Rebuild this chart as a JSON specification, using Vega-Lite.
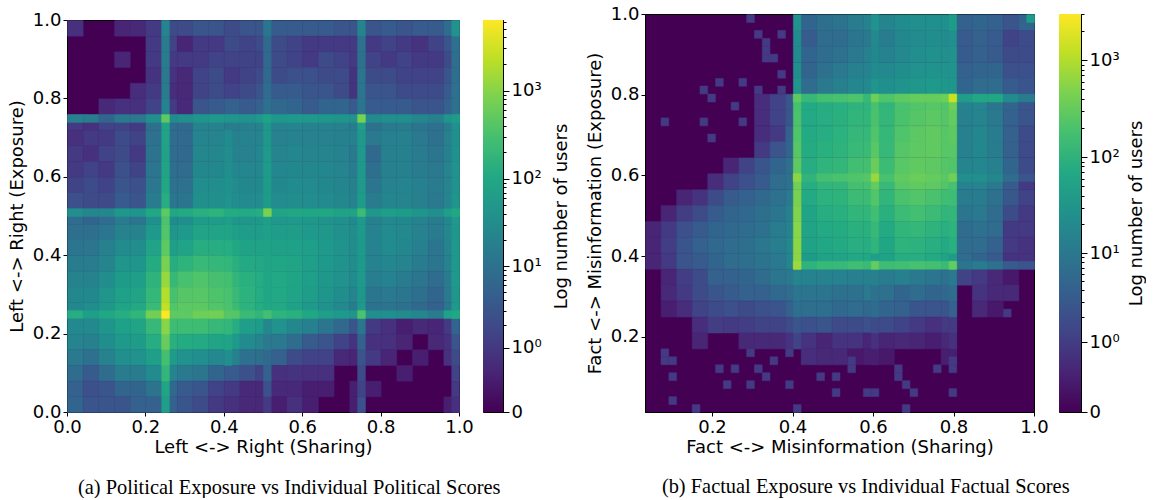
{"$schema":"https://vega.github.io/schema/vega-lite/v6.json","padding":{"left":7,"top":4,"right":0,"bottom":0},"background":"white",
"config":{"rect":{"strokeWidth":0.5},"view":{"stroke":"black","strokeWidth":1,"fill":"#440154"},"axis":{"labelFont":"DejaVu Sans","titleFont":"DejaVu Sans","labelFontSize":18,"titleFontSize":18,"titleFontWeight":"normal","tickColor":"black","domainColor":"black","labelColor":"black","titleColor":"black","grid":false,"tickSize":4,"zindex":1,"labelFlush":false},"title":{"font":"Liberation Serif","fontSize":20.4,"fontWeight":"normal","color":"black","anchor":"middle"}},
"spacing":14,
"hconcat":[
{"spacing":-10,"vconcat":[{"width":392,"height":6,"view":{"fill":null,"stroke":null},"data":{"values":[{}]},"mark":{"type":"rect","opacity":0},"encoding":{}},{"title":{"text":"(a)  Political Exposure vs Individual Political Scores","orient":"bottom","offset":21},"spacing":8,"hconcat":[
{"width":392,"height":392,"encoding":{"color":{"field":"v","type":"quantitative","legend":null,"scale":{"type":"symlog","constant":0.23,"domain":[0,6300],"scheme":"viridis"}},"stroke":{"field":"v","type":"quantitative","legend":null,"scale":{"type":"symlog","constant":0.23,"domain":[0,6300],"scheme":"viridis"}}},"layer":[
{"data":{"values":[
{"x":0,"y":0.96,"v":0.7},{"x":0.12,"y":0.96,"v":0.4},{"x":0.16,"y":0.96,"v":0.5},{"x":0.2,"y":0.96,"v":1},{"x":0.24,"y":0.96,"v":2},{"x":0.28,"y":0.96,"v":2},{"x":0.32,"y":0.96,"v":3},{"x":0.36,"y":0.96,"v":3},{"x":0.4,"y":0.96,"v":2},{"x":0.44,"y":0.96,"v":3},{"x":0.48,"y":0.96,"v":3},{"x":0.52,"y":0.96,"v":4},{"x":0.56,"y":0.96,"v":4},{"x":0.6,"y":0.96,"v":4},{"x":0.64,"y":0.96,"v":4},{"x":0.68,"y":0.96,"v":3},{"x":0.72,"y":0.96,"v":3},{"x":0.76,"y":0.96,"v":3},{"x":0.8,"y":0.96,"v":4},{"x":0.84,"y":0.96,"v":3},{"x":0.88,"y":0.96,"v":4},{"x":0.92,"y":0.96,"v":4},{"x":0.96,"y":0.96,"v":8},
{"x":0.2,"y":0.92,"v":1},{"x":0.24,"y":0.92,"v":1.5},{"x":0.28,"y":0.92,"v":0.4},{"x":0.32,"y":0.92,"v":1},{"x":0.36,"y":0.92,"v":1},{"x":0.4,"y":0.92,"v":2},{"x":0.44,"y":0.92,"v":1.5},{"x":0.48,"y":0.92,"v":2},{"x":0.52,"y":0.92,"v":2},{"x":0.56,"y":0.92,"v":1.5},{"x":0.6,"y":0.92,"v":1},{"x":0.64,"y":0.92,"v":1},{"x":0.68,"y":0.92,"v":1},{"x":0.72,"y":0.92,"v":1},{"x":0.76,"y":0.92,"v":1},{"x":0.8,"y":0.92,"v":1.5},{"x":0.84,"y":0.92,"v":1},{"x":0.88,"y":0.92,"v":0.8},{"x":0.92,"y":0.92,"v":1.5},{"x":0.96,"y":0.92,"v":3},
{"x":0.12,"y":0.88,"v":0.4},{"x":0.2,"y":0.88,"v":1},{"x":0.24,"y":0.88,"v":1},{"x":0.28,"y":0.88,"v":1},{"x":0.32,"y":0.88,"v":1},{"x":0.36,"y":0.88,"v":1.5},{"x":0.4,"y":0.88,"v":1.5},{"x":0.44,"y":0.88,"v":1.5},{"x":0.48,"y":0.88,"v":1.5},{"x":0.52,"y":0.88,"v":2},{"x":0.56,"y":0.88,"v":1.5},{"x":0.6,"y":0.88,"v":1},{"x":0.64,"y":0.88,"v":2},{"x":0.68,"y":0.88,"v":1.5},{"x":0.72,"y":0.88,"v":1},{"x":0.76,"y":0.88,"v":1.5},{"x":0.8,"y":0.88,"v":1},{"x":0.84,"y":0.88,"v":1.5},{"x":0.88,"y":0.88,"v":1},{"x":0.92,"y":0.88,"v":1},{"x":0.96,"y":0.88,"v":2},
{"x":0.2,"y":0.84,"v":0.8},{"x":0.24,"y":0.84,"v":0.8},{"x":0.28,"y":0.84,"v":0.5},{"x":0.32,"y":0.84,"v":1.5},{"x":0.36,"y":0.84,"v":2},{"x":0.4,"y":0.84,"v":1},{"x":0.44,"y":0.84,"v":1.5},{"x":0.48,"y":0.84,"v":2},{"x":0.52,"y":0.84,"v":2},{"x":0.56,"y":0.84,"v":2.5},{"x":0.6,"y":0.84,"v":2.5},{"x":0.64,"y":0.84,"v":2},{"x":0.68,"y":0.84,"v":2},{"x":0.72,"y":0.84,"v":0.8},{"x":0.76,"y":0.84,"v":2},{"x":0.8,"y":0.84,"v":2},{"x":0.84,"y":0.84,"v":1.5},{"x":0.88,"y":0.84,"v":1.5},{"x":0.92,"y":0.84,"v":1.5},{"x":0.96,"y":0.84,"v":3},
{"x":0.16,"y":0.8,"v":0.6},{"x":0.2,"y":0.8,"v":1},{"x":0.24,"y":0.8,"v":0.6},{"x":0.28,"y":0.8,"v":0.5},{"x":0.32,"y":0.8,"v":1.5},{"x":0.36,"y":0.8,"v":2},{"x":0.4,"y":0.8,"v":1.5},{"x":0.44,"y":0.8,"v":2},{"x":0.48,"y":0.8,"v":3},{"x":0.52,"y":0.8,"v":4},{"x":0.56,"y":0.8,"v":4},{"x":0.6,"y":0.8,"v":3},{"x":0.64,"y":0.8,"v":3},{"x":0.68,"y":0.8,"v":2},{"x":0.72,"y":0.8,"v":0.8},{"x":0.76,"y":0.8,"v":3},{"x":0.8,"y":0.8,"v":3},{"x":0.84,"y":0.8,"v":2},{"x":0.88,"y":0.8,"v":2},{"x":0.92,"y":0.8,"v":2},{"x":0.96,"y":0.8,"v":4},
{"x":0.08,"y":0.76,"v":0.5},{"x":0.12,"y":0.76,"v":0.7},{"x":0.16,"y":0.76,"v":0.7},{"x":0.2,"y":0.76,"v":1.5},{"x":0.24,"y":0.76,"v":1},{"x":0.28,"y":0.76,"v":0.5},{"x":0.32,"y":0.76,"v":3},{"x":0.36,"y":0.76,"v":4},{"x":0.4,"y":0.76,"v":5},{"x":0.44,"y":0.76,"v":4},{"x":0.48,"y":0.76,"v":5},{"x":0.52,"y":0.76,"v":7},{"x":0.56,"y":0.76,"v":6},{"x":0.6,"y":0.76,"v":4},{"x":0.64,"y":0.76,"v":6},{"x":0.68,"y":0.76,"v":6},{"x":0.72,"y":0.76,"v":4},{"x":0.76,"y":0.76,"v":4},{"x":0.8,"y":0.76,"v":4},{"x":0.84,"y":0.76,"v":4},{"x":0.88,"y":0.76,"v":3},{"x":0.92,"y":0.76,"v":3},{"x":0.96,"y":0.76,"v":5},
{"x":0,"y":0.72,"v":1},{"x":0.04,"y":0.72,"v":0.7},{"x":0.08,"y":0.72,"v":1.5},{"x":0.12,"y":0.72,"v":1.5},{"x":0.16,"y":0.72,"v":1},{"x":0.2,"y":0.72,"v":9},{"x":0.24,"y":0.72,"v":8},{"x":0.28,"y":0.72,"v":7},{"x":0.32,"y":0.72,"v":20},{"x":0.36,"y":0.72,"v":20},{"x":0.4,"y":0.72,"v":16},{"x":0.44,"y":0.72,"v":18},{"x":0.48,"y":0.72,"v":20},{"x":0.52,"y":0.72,"v":20},{"x":0.56,"y":0.72,"v":22},{"x":0.6,"y":0.72,"v":20},{"x":0.64,"y":0.72,"v":20},{"x":0.68,"y":0.72,"v":18},{"x":0.72,"y":0.72,"v":16},{"x":0.76,"y":0.72,"v":10},{"x":0.8,"y":0.72,"v":14},{"x":0.84,"y":0.72,"v":16},{"x":0.88,"y":0.72,"v":12},{"x":0.92,"y":0.72,"v":10},{"x":0.96,"y":0.72,"v":16},
{"x":0,"y":0.68,"v":0.7},{"x":0.04,"y":0.68,"v":1},{"x":0.08,"y":0.68,"v":1},{"x":0.12,"y":0.68,"v":2},{"x":0.16,"y":0.68,"v":1.5},{"x":0.2,"y":0.68,"v":10},{"x":0.24,"y":0.68,"v":8},{"x":0.28,"y":0.68,"v":7},{"x":0.32,"y":0.68,"v":22},{"x":0.36,"y":0.68,"v":22},{"x":0.4,"y":0.68,"v":18},{"x":0.44,"y":0.68,"v":20},{"x":0.48,"y":0.68,"v":22},{"x":0.52,"y":0.68,"v":20},{"x":0.56,"y":0.68,"v":20},{"x":0.6,"y":0.68,"v":20},{"x":0.64,"y":0.68,"v":20},{"x":0.68,"y":0.68,"v":18},{"x":0.72,"y":0.68,"v":18},{"x":0.76,"y":0.68,"v":14},{"x":0.8,"y":0.68,"v":18},{"x":0.84,"y":0.68,"v":18},{"x":0.88,"y":0.68,"v":14},{"x":0.92,"y":0.68,"v":10},{"x":0.96,"y":0.68,"v":18},
{"x":0,"y":0.64,"v":1},{"x":0.04,"y":0.64,"v":0.7},{"x":0.08,"y":0.64,"v":1.5},{"x":0.12,"y":0.64,"v":2},{"x":0.16,"y":0.64,"v":1},{"x":0.2,"y":0.64,"v":11},{"x":0.24,"y":0.64,"v":8},{"x":0.28,"y":0.64,"v":7},{"x":0.32,"y":0.64,"v":25},{"x":0.36,"y":0.64,"v":25},{"x":0.4,"y":0.64,"v":20},{"x":0.44,"y":0.64,"v":20},{"x":0.48,"y":0.64,"v":24},{"x":0.52,"y":0.64,"v":22},{"x":0.56,"y":0.64,"v":24},{"x":0.6,"y":0.64,"v":22},{"x":0.64,"y":0.64,"v":22},{"x":0.68,"y":0.64,"v":20},{"x":0.72,"y":0.64,"v":14},{"x":0.76,"y":0.64,"v":7},{"x":0.8,"y":0.64,"v":18},{"x":0.84,"y":0.64,"v":18},{"x":0.88,"y":0.64,"v":16},{"x":0.92,"y":0.64,"v":12},{"x":0.96,"y":0.64,"v":18},
{"x":0,"y":0.6,"v":1},{"x":0.04,"y":0.6,"v":1.5},{"x":0.08,"y":0.6,"v":1},{"x":0.12,"y":0.6,"v":2.5},{"x":0.16,"y":0.6,"v":1.5},{"x":0.2,"y":0.6,"v":12},{"x":0.24,"y":0.6,"v":9},{"x":0.28,"y":0.6,"v":8},{"x":0.32,"y":0.6,"v":27},{"x":0.36,"y":0.6,"v":27},{"x":0.4,"y":0.6,"v":24},{"x":0.44,"y":0.6,"v":24},{"x":0.48,"y":0.6,"v":25},{"x":0.52,"y":0.6,"v":24},{"x":0.56,"y":0.6,"v":27},{"x":0.6,"y":0.6,"v":25},{"x":0.64,"y":0.6,"v":24},{"x":0.68,"y":0.6,"v":22},{"x":0.72,"y":0.6,"v":16},{"x":0.76,"y":0.6,"v":9},{"x":0.8,"y":0.6,"v":18},{"x":0.84,"y":0.6,"v":18},{"x":0.88,"y":0.6,"v":16},{"x":0.92,"y":0.6,"v":14},{"x":0.96,"y":0.6,"v":22},
{"x":0,"y":0.56,"v":1.5},{"x":0.04,"y":0.56,"v":2},{"x":0.08,"y":0.56,"v":1.5},{"x":0.12,"y":0.56,"v":3},{"x":0.16,"y":0.56,"v":2.5},{"x":0.2,"y":0.56,"v":13},{"x":0.24,"y":0.56,"v":10},{"x":0.28,"y":0.56,"v":10},{"x":0.32,"y":0.56,"v":32},{"x":0.36,"y":0.56,"v":32},{"x":0.4,"y":0.56,"v":29},{"x":0.44,"y":0.56,"v":27},{"x":0.48,"y":0.56,"v":27},{"x":0.52,"y":0.56,"v":27},{"x":0.56,"y":0.56,"v":30},{"x":0.6,"y":0.56,"v":29},{"x":0.64,"y":0.56,"v":27},{"x":0.68,"y":0.56,"v":23},{"x":0.72,"y":0.56,"v":18},{"x":0.76,"y":0.56,"v":12},{"x":0.8,"y":0.56,"v":20},{"x":0.84,"y":0.56,"v":22},{"x":0.88,"y":0.56,"v":18},{"x":0.92,"y":0.56,"v":16},{"x":0.96,"y":0.56,"v":22},
{"x":0,"y":0.52,"v":2.5},{"x":0.04,"y":0.52,"v":2},{"x":0.08,"y":0.52,"v":2},{"x":0.12,"y":0.52,"v":4},{"x":0.16,"y":0.52,"v":3},{"x":0.2,"y":0.52,"v":15},{"x":0.24,"y":0.52,"v":12},{"x":0.28,"y":0.52,"v":12},{"x":0.32,"y":0.52,"v":36},{"x":0.36,"y":0.52,"v":36},{"x":0.4,"y":0.52,"v":31},{"x":0.44,"y":0.52,"v":29},{"x":0.48,"y":0.52,"v":31},{"x":0.52,"y":0.52,"v":31},{"x":0.56,"y":0.52,"v":32},{"x":0.6,"y":0.52,"v":31},{"x":0.64,"y":0.52,"v":29},{"x":0.68,"y":0.52,"v":25},{"x":0.72,"y":0.52,"v":20},{"x":0.76,"y":0.52,"v":16},{"x":0.8,"y":0.52,"v":23},{"x":0.84,"y":0.52,"v":22},{"x":0.88,"y":0.52,"v":18},{"x":0.92,"y":0.52,"v":14},{"x":0.96,"y":0.52,"v":23},
{"x":0,"y":0.48,"v":8},{"x":0.04,"y":0.48,"v":6},{"x":0.08,"y":0.48,"v":8},{"x":0.12,"y":0.48,"v":15},{"x":0.16,"y":0.48,"v":12},{"x":0.2,"y":0.48,"v":35},{"x":0.24,"y":0.48,"v":30},{"x":0.28,"y":0.48,"v":32},{"x":0.32,"y":0.48,"v":60},{"x":0.36,"y":0.48,"v":62},{"x":0.4,"y":0.48,"v":50},{"x":0.44,"y":0.48,"v":50},{"x":0.48,"y":0.48,"v":52},{"x":0.52,"y":0.48,"v":52},{"x":0.56,"y":0.48,"v":55},{"x":0.6,"y":0.48,"v":50},{"x":0.64,"y":0.48,"v":42},{"x":0.68,"y":0.48,"v":36},{"x":0.72,"y":0.48,"v":28},{"x":0.76,"y":0.48,"v":18},{"x":0.8,"y":0.48,"v":28},{"x":0.84,"y":0.48,"v":26},{"x":0.88,"y":0.48,"v":20},{"x":0.92,"y":0.48,"v":15},{"x":0.96,"y":0.48,"v":25},
{"x":0,"y":0.44,"v":9},{"x":0.04,"y":0.44,"v":9},{"x":0.08,"y":0.44,"v":12},{"x":0.12,"y":0.44,"v":21},{"x":0.16,"y":0.44,"v":21},{"x":0.2,"y":0.44,"v":55},{"x":0.24,"y":0.44,"v":45},{"x":0.28,"y":0.44,"v":55},{"x":0.32,"y":0.44,"v":85},{"x":0.36,"y":0.44,"v":85},{"x":0.4,"y":0.44,"v":70},{"x":0.44,"y":0.44,"v":62},{"x":0.48,"y":0.44,"v":62},{"x":0.52,"y":0.44,"v":62},{"x":0.56,"y":0.44,"v":65},{"x":0.6,"y":0.44,"v":58},{"x":0.64,"y":0.44,"v":50},{"x":0.68,"y":0.44,"v":38},{"x":0.72,"y":0.44,"v":32},{"x":0.76,"y":0.44,"v":20},{"x":0.8,"y":0.44,"v":30},{"x":0.84,"y":0.44,"v":28},{"x":0.88,"y":0.44,"v":20},{"x":0.92,"y":0.44,"v":15},{"x":0.96,"y":0.44,"v":25},
{"x":0,"y":0.4,"v":12},{"x":0.04,"y":0.4,"v":12},{"x":0.08,"y":0.4,"v":18},{"x":0.12,"y":0.4,"v":30},{"x":0.16,"y":0.4,"v":33},{"x":0.2,"y":0.4,"v":85},{"x":0.24,"y":0.4,"v":70},{"x":0.28,"y":0.4,"v":85},{"x":0.32,"y":0.4,"v":130},{"x":0.36,"y":0.4,"v":130},{"x":0.4,"y":0.4,"v":100},{"x":0.44,"y":0.4,"v":80},{"x":0.48,"y":0.4,"v":80},{"x":0.52,"y":0.4,"v":78},{"x":0.56,"y":0.4,"v":78},{"x":0.6,"y":0.4,"v":68},{"x":0.64,"y":0.4,"v":55},{"x":0.68,"y":0.4,"v":42},{"x":0.72,"y":0.4,"v":33},{"x":0.76,"y":0.4,"v":20},{"x":0.8,"y":0.4,"v":30},{"x":0.84,"y":0.4,"v":25},{"x":0.88,"y":0.4,"v":18},{"x":0.92,"y":0.4,"v":12},{"x":0.96,"y":0.4,"v":22},
{"x":0,"y":0.36,"v":15},{"x":0.04,"y":0.36,"v":15},{"x":0.08,"y":0.36,"v":22},{"x":0.12,"y":0.36,"v":45},{"x":0.16,"y":0.36,"v":45},{"x":0.2,"y":0.36,"v":120},{"x":0.24,"y":0.36,"v":130},{"x":0.28,"y":0.36,"v":170},{"x":0.32,"y":0.36,"v":230},{"x":0.36,"y":0.36,"v":210},{"x":0.4,"y":0.36,"v":140},{"x":0.44,"y":0.36,"v":110},{"x":0.48,"y":0.36,"v":105},{"x":0.52,"y":0.36,"v":95},{"x":0.56,"y":0.36,"v":90},{"x":0.6,"y":0.36,"v":70},{"x":0.64,"y":0.36,"v":55},{"x":0.68,"y":0.36,"v":44},{"x":0.72,"y":0.36,"v":32},{"x":0.76,"y":0.36,"v":20},{"x":0.8,"y":0.36,"v":24},{"x":0.84,"y":0.36,"v":22},{"x":0.88,"y":0.36,"v":16},{"x":0.92,"y":0.36,"v":12},{"x":0.96,"y":0.36,"v":20},
{"x":0,"y":0.32,"v":21},{"x":0.04,"y":0.32,"v":21},{"x":0.08,"y":0.32,"v":33},{"x":0.12,"y":0.32,"v":60},{"x":0.16,"y":0.32,"v":68},{"x":0.2,"y":0.32,"v":170},{"x":0.24,"y":0.32,"v":220},{"x":0.28,"y":0.32,"v":320},{"x":0.32,"y":0.32,"v":380},{"x":0.36,"y":0.32,"v":310},{"x":0.4,"y":0.32,"v":190},{"x":0.44,"y":0.32,"v":150},{"x":0.48,"y":0.32,"v":125},{"x":0.52,"y":0.32,"v":105},{"x":0.56,"y":0.32,"v":90},{"x":0.6,"y":0.32,"v":70},{"x":0.64,"y":0.32,"v":52},{"x":0.68,"y":0.32,"v":40},{"x":0.72,"y":0.32,"v":30},{"x":0.76,"y":0.32,"v":17},{"x":0.8,"y":0.32,"v":20},{"x":0.84,"y":0.32,"v":16},{"x":0.88,"y":0.32,"v":12},{"x":0.92,"y":0.32,"v":8},{"x":0.96,"y":0.32,"v":16},
{"x":0,"y":0.28,"v":27},{"x":0.04,"y":0.28,"v":27},{"x":0.08,"y":0.28,"v":45},{"x":0.12,"y":0.28,"v":75},{"x":0.16,"y":0.28,"v":90},{"x":0.2,"y":0.28,"v":210},{"x":0.24,"y":0.28,"v":320},{"x":0.28,"y":0.28,"v":420},{"x":0.32,"y":0.28,"v":440},{"x":0.36,"y":0.28,"v":360},{"x":0.4,"y":0.28,"v":230},{"x":0.44,"y":0.28,"v":160},{"x":0.48,"y":0.28,"v":125},{"x":0.52,"y":0.28,"v":105},{"x":0.56,"y":0.28,"v":85},{"x":0.6,"y":0.28,"v":65},{"x":0.64,"y":0.28,"v":45},{"x":0.68,"y":0.28,"v":33},{"x":0.72,"y":0.28,"v":22},{"x":0.76,"y":0.28,"v":12},{"x":0.8,"y":0.28,"v":14},{"x":0.84,"y":0.28,"v":12},{"x":0.88,"y":0.28,"v":9},{"x":0.92,"y":0.28,"v":6},{"x":0.96,"y":0.28,"v":14},
{"x":0,"y":0.24,"v":27},{"x":0.04,"y":0.24,"v":33},{"x":0.08,"y":0.24,"v":52},{"x":0.12,"y":0.24,"v":90},{"x":0.16,"y":0.24,"v":105},{"x":0.2,"y":0.24,"v":240},{"x":0.24,"y":0.24,"v":400},{"x":0.28,"y":0.24,"v":480},{"x":0.32,"y":0.24,"v":480},{"x":0.36,"y":0.24,"v":400},{"x":0.4,"y":0.24,"v":240},{"x":0.44,"y":0.24,"v":160},{"x":0.48,"y":0.24,"v":125},{"x":0.52,"y":0.24,"v":105},{"x":0.56,"y":0.24,"v":78},{"x":0.6,"y":0.24,"v":58},{"x":0.64,"y":0.24,"v":38},{"x":0.68,"y":0.24,"v":28},{"x":0.72,"y":0.24,"v":16},{"x":0.76,"y":0.24,"v":10},{"x":0.8,"y":0.24,"v":11},{"x":0.84,"y":0.24,"v":10},{"x":0.88,"y":0.24,"v":7},{"x":0.92,"y":0.24,"v":5},{"x":0.96,"y":0.24,"v":12},
{"x":0,"y":0.2,"v":28},{"x":0.04,"y":0.2,"v":28},{"x":0.08,"y":0.2,"v":45},{"x":0.12,"y":0.2,"v":75},{"x":0.16,"y":0.2,"v":90},{"x":0.2,"y":0.2,"v":220},{"x":0.24,"y":0.2,"v":260},{"x":0.28,"y":0.2,"v":260},{"x":0.32,"y":0.2,"v":260},{"x":0.36,"y":0.2,"v":220},{"x":0.4,"y":0.2,"v":130},{"x":0.44,"y":0.2,"v":70},{"x":0.48,"y":0.2,"v":60},{"x":0.52,"y":0.2,"v":40},{"x":0.56,"y":0.2,"v":25},{"x":0.6,"y":0.2,"v":18},{"x":0.64,"y":0.2,"v":12},{"x":0.68,"y":0.2,"v":7},{"x":0.72,"y":0.2,"v":3},{"x":0.76,"y":0.2,"v":1},{"x":0.8,"y":0.2,"v":0.7},{"x":0.84,"y":0.2,"v":0.3},{"x":0.88,"y":0.2,"v":0.5},{"x":0.92,"y":0.2,"v":0.4},{"x":0.96,"y":0.2,"v":1},
{"x":0,"y":0.16,"v":22},{"x":0.04,"y":0.16,"v":18},{"x":0.08,"y":0.16,"v":32},{"x":0.12,"y":0.16,"v":55},{"x":0.16,"y":0.16,"v":60},{"x":0.2,"y":0.16,"v":130},{"x":0.24,"y":0.16,"v":140},{"x":0.28,"y":0.16,"v":120},{"x":0.32,"y":0.16,"v":110},{"x":0.36,"y":0.16,"v":90},{"x":0.4,"y":0.16,"v":55},{"x":0.44,"y":0.16,"v":30},{"x":0.48,"y":0.16,"v":22},{"x":0.52,"y":0.16,"v":14},{"x":0.56,"y":0.16,"v":8},{"x":0.6,"y":0.16,"v":4},{"x":0.64,"y":0.16,"v":3},{"x":0.68,"y":0.16,"v":1.5},{"x":0.72,"y":0.16,"v":0.8},{"x":0.76,"y":0.16,"v":0.7},{"x":0.8,"y":0.16,"v":0.7},{"x":0.84,"y":0.16,"v":0.4},{"x":0.92,"y":0.16,"v":0.5},{"x":0.96,"y":0.16,"v":0.7},
{"x":0,"y":0.12,"v":14},{"x":0.04,"y":0.12,"v":10},{"x":0.08,"y":0.12,"v":20},{"x":0.12,"y":0.12,"v":35},{"x":0.16,"y":0.12,"v":40},{"x":0.2,"y":0.12,"v":70},{"x":0.24,"y":0.12,"v":60},{"x":0.28,"y":0.12,"v":40},{"x":0.32,"y":0.12,"v":35},{"x":0.36,"y":0.12,"v":28},{"x":0.4,"y":0.12,"v":18},{"x":0.44,"y":0.12,"v":10},{"x":0.48,"y":0.12,"v":9},{"x":0.52,"y":0.12,"v":5},{"x":0.56,"y":0.12,"v":2},{"x":0.6,"y":0.12,"v":1.5},{"x":0.64,"y":0.12,"v":1.5},{"x":0.68,"y":0.12,"v":0.5},{"x":0.72,"y":0.12,"v":0.4},{"x":0.76,"y":0.12,"v":1},{"x":0.8,"y":0.12,"v":0.4},{"x":0.88,"y":0.12,"v":0.3},{"x":0.96,"y":0.12,"v":0.7},
{"x":0,"y":0.08,"v":8},{"x":0.04,"y":0.08,"v":4},{"x":0.08,"y":0.08,"v":8},{"x":0.12,"y":0.08,"v":16},{"x":0.16,"y":0.08,"v":16},{"x":0.2,"y":0.08,"v":30},{"x":0.24,"y":0.08,"v":22},{"x":0.28,"y":0.08,"v":14},{"x":0.32,"y":0.08,"v":12},{"x":0.36,"y":0.08,"v":6},{"x":0.4,"y":0.08,"v":4},{"x":0.44,"y":0.08,"v":2.5},{"x":0.48,"y":0.08,"v":1.5},{"x":0.52,"y":0.08,"v":0.7},{"x":0.56,"y":0.08,"v":0.8},{"x":0.6,"y":0.08,"v":0.7},{"x":0.64,"y":0.08,"v":0.7},{"x":0.84,"y":0.08,"v":0.3},
{"x":0,"y":0.04,"v":5},{"x":0.04,"y":0.04,"v":2.5},{"x":0.08,"y":0.04,"v":3},{"x":0.12,"y":0.04,"v":6},{"x":0.16,"y":0.04,"v":6},{"x":0.2,"y":0.04,"v":11},{"x":0.24,"y":0.04,"v":7},{"x":0.28,"y":0.04,"v":4},{"x":0.32,"y":0.04,"v":3},{"x":0.36,"y":0.04,"v":1.5},{"x":0.4,"y":0.04,"v":1},{"x":0.44,"y":0.04,"v":0.5},{"x":0.48,"y":0.04,"v":0.5},{"x":0.52,"y":0.04,"v":0.5},{"x":0.56,"y":0.04,"v":0.5},{"x":0.6,"y":0.04,"v":0.3},{"x":0.64,"y":0.04,"v":0.3},{"x":0.72,"y":0.04,"v":0.3},{"x":0.76,"y":0.04,"v":0.3},
{"x":0,"y":0,"v":6},{"x":0.04,"y":0,"v":3},{"x":0.08,"y":0,"v":3},{"x":0.12,"y":0,"v":3},{"x":0.16,"y":0,"v":5},{"x":0.2,"y":0,"v":5},{"x":0.24,"y":0,"v":5},{"x":0.28,"y":0,"v":3},{"x":0.32,"y":0,"v":2},{"x":0.36,"y":0,"v":1},{"x":0.4,"y":0,"v":0.7},{"x":0.44,"y":0,"v":0.5},{"x":0.48,"y":0,"v":0.5},{"x":0.52,"y":0,"v":0.3},{"x":0.56,"y":0,"v":0.7},{"x":0.6,"y":0,"v":0.3},{"x":0.72,"y":0,"v":0.3},{"x":0.96,"y":0,"v":0.3}
]},"mark":"rect","encoding":{"x":{"field":"x","type":"quantitative","bin":{"binned":true,"step":0.04},"scale":{"domain":[0,1],"nice":false},"axis":{"title":"Left <-> Right (Sharing)","values":[0,0.2,0.4,0.6,0.8,1],"format":".1f","titlePadding":2}},"y":{"field":"y","type":"quantitative","bin":{"binned":true,"step":0.04},"scale":{"domain":[0,1],"nice":false},"axis":{"title":"Left <-> Right (Exposure)","values":[0,0.2,0.4,0.6,0.8,1],"format":".1f","titlePadding":6}}}},
{"data":{"values":[
{"x":0.24,"y":0,"v":70},{"x":0.24,"y":0.04,"v":90},{"x":0.24,"y":0.08,"v":200},{"x":0.24,"y":0.12,"v":300},{"x":0.24,"y":0.16,"v":600},{"x":0.24,"y":0.2,"v":1000},{"x":0.24,"y":0.24,"v":2500},{"x":0.24,"y":0.28,"v":2000},{"x":0.24,"y":0.32,"v":1300},{"x":0.24,"y":0.36,"v":800},{"x":0.24,"y":0.4,"v":500},{"x":0.24,"y":0.44,"v":400},{"x":0.24,"y":0.48,"v":350},{"x":0.24,"y":0.52,"v":130},{"x":0.24,"y":0.56,"v":100},{"x":0.24,"y":0.6,"v":90},{"x":0.24,"y":0.64,"v":80},{"x":0.24,"y":0.68,"v":85},{"x":0.24,"y":0.72,"v":90},{"x":0.24,"y":0.76,"v":20},{"x":0.24,"y":0.8,"v":15},{"x":0.24,"y":0.84,"v":14},{"x":0.24,"y":0.88,"v":15},{"x":0.24,"y":0.92,"v":15},{"x":0.24,"y":0.96,"v":22},
{"x":0.5,"y":0,"v":1},{"x":0.5,"y":0.04,"v":2.5},{"x":0.5,"y":0.08,"v":5},{"x":0.5,"y":0.12,"v":7},{"x":0.5,"y":0.16,"v":14},{"x":0.5,"y":0.2,"v":25},{"x":0.5,"y":0.24,"v":100},{"x":0.5,"y":0.28,"v":95},{"x":0.5,"y":0.32,"v":95},{"x":0.5,"y":0.36,"v":90},{"x":0.5,"y":0.4,"v":80},{"x":0.5,"y":0.44,"v":75},{"x":0.5,"y":0.48,"v":70},{"x":0.5,"y":0.52,"v":60},{"x":0.5,"y":0.56,"v":60},{"x":0.5,"y":0.6,"v":60},{"x":0.5,"y":0.64,"v":55},{"x":0.5,"y":0.68,"v":50},{"x":0.5,"y":0.72,"v":50},{"x":0.5,"y":0.76,"v":10},{"x":0.5,"y":0.8,"v":8},{"x":0.5,"y":0.84,"v":7},{"x":0.5,"y":0.88,"v":7},{"x":0.5,"y":0.92,"v":7},{"x":0.5,"y":0.96,"v":12},
{"x":0.74,"y":0,"v":2.5},{"x":0.74,"y":0.04,"v":1.5},{"x":0.74,"y":0.08,"v":2},{"x":0.74,"y":0.12,"v":3},{"x":0.74,"y":0.16,"v":5},{"x":0.74,"y":0.2,"v":12},{"x":0.74,"y":0.24,"v":55},{"x":0.74,"y":0.28,"v":50},{"x":0.74,"y":0.32,"v":55},{"x":0.74,"y":0.36,"v":55},{"x":0.74,"y":0.4,"v":55},{"x":0.74,"y":0.44,"v":55},{"x":0.74,"y":0.48,"v":55},{"x":0.74,"y":0.52,"v":60},{"x":0.74,"y":0.56,"v":55},{"x":0.74,"y":0.6,"v":55},{"x":0.74,"y":0.64,"v":55},{"x":0.74,"y":0.68,"v":55},{"x":0.74,"y":0.72,"v":70},{"x":0.74,"y":0.76,"v":12},{"x":0.74,"y":0.8,"v":12},{"x":0.74,"y":0.84,"v":12},{"x":0.74,"y":0.88,"v":10},{"x":0.74,"y":0.92,"v":10},{"x":0.74,"y":0.96,"v":22},
{"x":0.98,"y":0,"v":0.7},{"x":0.98,"y":0.04,"v":1},{"x":0.98,"y":0.08,"v":1.5},{"x":0.98,"y":0.12,"v":2},{"x":0.98,"y":0.16,"v":3},{"x":0.98,"y":0.2,"v":6},{"x":0.98,"y":0.24,"v":55},{"x":0.98,"y":0.28,"v":50},{"x":0.98,"y":0.32,"v":55},{"x":0.98,"y":0.36,"v":55},{"x":0.98,"y":0.4,"v":55},{"x":0.98,"y":0.44,"v":50},{"x":0.98,"y":0.48,"v":55},{"x":0.98,"y":0.52,"v":45},{"x":0.98,"y":0.56,"v":40},{"x":0.98,"y":0.6,"v":40},{"x":0.98,"y":0.64,"v":38},{"x":0.98,"y":0.68,"v":35},{"x":0.98,"y":0.72,"v":38},{"x":0.98,"y":0.76,"v":10},{"x":0.98,"y":0.8,"v":10},{"x":0.98,"y":0.84,"v":9},{"x":0.98,"y":0.88,"v":9},{"x":0.98,"y":0.92,"v":10},{"x":0.98,"y":0.96,"v":40},
{"x":0.4,"y":0.12,"v":35},{"x":0.4,"y":0.16,"v":90},{"x":0.4,"y":0.2,"v":200},{"x":0.4,"y":0.24,"v":350},{"x":0.4,"y":0.28,"v":330},{"x":0.4,"y":0.32,"v":300},{"x":0.4,"y":0.36,"v":200},{"x":0.4,"y":0.4,"v":130},{"x":0.4,"y":0.44,"v":90},{"x":0.4,"y":0.48,"v":70},{"x":0.4,"y":0.52,"v":40},{"x":0.4,"y":0.56,"v":38},{"x":0.4,"y":0.6,"v":35},{"x":0.4,"y":0.64,"v":32},{"x":0.4,"y":0.68,"v":30}
]},"mark":"rect","encoding":{"x":{"field":"x","type":"quantitative","bin":{"binned":true,"step":0.02},"scale":{"domain":[0,1],"nice":false}},"y":{"field":"y","type":"quantitative","bin":{"binned":true,"step":0.04},"scale":{"domain":[0,1],"nice":false}}}},
{"data":{"values":[
{"x":0,"y":0.24,"v":130},{"x":0.04,"y":0.24,"v":70},{"x":0.08,"y":0.24,"v":100},{"x":0.12,"y":0.24,"v":130},{"x":0.16,"y":0.24,"v":190},{"x":0.2,"y":0.24,"v":700},{"x":0.24,"y":0.24,"v":500},{"x":0.28,"y":0.24,"v":500},{"x":0.32,"y":0.24,"v":650},{"x":0.36,"y":0.24,"v":700},{"x":0.4,"y":0.24,"v":420},{"x":0.44,"y":0.24,"v":240},{"x":0.48,"y":0.24,"v":190},{"x":0.52,"y":0.24,"v":170},{"x":0.56,"y":0.24,"v":150},{"x":0.6,"y":0.24,"v":100},{"x":0.64,"y":0.24,"v":70},{"x":0.68,"y":0.24,"v":55},{"x":0.72,"y":0.24,"v":45},{"x":0.76,"y":0.24,"v":35},{"x":0.8,"y":0.24,"v":35},{"x":0.84,"y":0.24,"v":30},{"x":0.88,"y":0.24,"v":25},{"x":0.92,"y":0.24,"v":16},{"x":0.96,"y":0.24,"v":80},
{"x":0,"y":0.5,"v":35},{"x":0.04,"y":0.5,"v":25},{"x":0.08,"y":0.5,"v":25},{"x":0.12,"y":0.5,"v":50},{"x":0.16,"y":0.5,"v":45},{"x":0.2,"y":0.5,"v":100},{"x":0.24,"y":0.5,"v":100},{"x":0.28,"y":0.5,"v":110},{"x":0.32,"y":0.5,"v":150},{"x":0.36,"y":0.5,"v":170},{"x":0.4,"y":0.5,"v":120},{"x":0.44,"y":0.5,"v":110},{"x":0.48,"y":0.5,"v":130},{"x":0.52,"y":0.5,"v":90},{"x":0.56,"y":0.5,"v":100},{"x":0.6,"y":0.5,"v":95},{"x":0.64,"y":0.5,"v":100},{"x":0.68,"y":0.5,"v":80},{"x":0.72,"y":0.5,"v":80},{"x":0.76,"y":0.5,"v":50},{"x":0.8,"y":0.5,"v":70},{"x":0.84,"y":0.5,"v":60},{"x":0.88,"y":0.5,"v":45},{"x":0.92,"y":0.5,"v":35},{"x":0.96,"y":0.5,"v":70},
{"x":0,"y":0.74,"v":18},{"x":0.04,"y":0.74,"v":16},{"x":0.08,"y":0.74,"v":6},{"x":0.12,"y":0.74,"v":14},{"x":0.16,"y":0.74,"v":14},{"x":0.2,"y":0.74,"v":35},{"x":0.24,"y":0.74,"v":30},{"x":0.28,"y":0.74,"v":35},{"x":0.32,"y":0.74,"v":45},{"x":0.36,"y":0.74,"v":55},{"x":0.4,"y":0.74,"v":45},{"x":0.44,"y":0.74,"v":40},{"x":0.48,"y":0.74,"v":55},{"x":0.52,"y":0.74,"v":50},{"x":0.56,"y":0.74,"v":55},{"x":0.6,"y":0.74,"v":55},{"x":0.64,"y":0.74,"v":50},{"x":0.68,"y":0.74,"v":45},{"x":0.72,"y":0.74,"v":40},{"x":0.76,"y":0.74,"v":30},{"x":0.8,"y":0.74,"v":35},{"x":0.84,"y":0.74,"v":35},{"x":0.88,"y":0.74,"v":25},{"x":0.92,"y":0.74,"v":18},{"x":0.96,"y":0.74,"v":45}
]},"mark":"rect","encoding":{"x":{"field":"x","type":"quantitative","bin":{"binned":true,"step":0.04},"scale":{"domain":[0,1],"nice":false}},"y":{"field":"y","type":"quantitative","bin":{"binned":true,"step":0.02},"scale":{"domain":[0,1],"nice":false}}}},
{"data":{"values":[{"x":0.24,"y":0.24,"v":6300},{"x":0.5,"y":0.24,"v":300},{"x":0.74,"y":0.24,"v":350},{"x":0.98,"y":0.24,"v":100},{"x":0.24,"y":0.5,"v":500},{"x":0.5,"y":0.5,"v":800},{"x":0.74,"y":0.5,"v":250},{"x":0.98,"y":0.5,"v":100},{"x":0.24,"y":0.74,"v":500},{"x":0.5,"y":0.74,"v":80},{"x":0.74,"y":0.74,"v":800},{"x":0.98,"y":0.74,"v":60}]},"mark":"rect","encoding":{"x":{"field":"x","type":"quantitative","bin":{"binned":true,"step":0.02},"scale":{"domain":[0,1],"nice":false}},"y":{"field":"y","type":"quantitative","bin":{"binned":true,"step":0.02},"scale":{"domain":[0,1],"nice":false}}}}
]},
{"width":20,"height":392,"data":{"values":[{"lo":0,"hi":6300}]},"mark":{"type":"rect","color":{"gradient":"linear","x1":0,"x2":0,"y1":1,"y2":0,"stops":[{"offset":0,"color":"#440154"},{"offset":0.1,"color":"#482475"},{"offset":0.2,"color":"#414487"},{"offset":0.3,"color":"#355f8d"},{"offset":0.4,"color":"#2a788e"},{"offset":0.5,"color":"#21918c"},{"offset":0.6,"color":"#22a884"},{"offset":0.7,"color":"#44bf70"},{"offset":0.8,"color":"#7ad151"},{"offset":0.9,"color":"#bddf26"},{"offset":1,"color":"#fde725"}]}},"encoding":{"x":{"value":0},"x2":{"value":20},"y":{"field":"lo","type":"quantitative","scale":{"type":"symlog","constant":0.23,"domain":[0,6300]},"axis":{"orient":"right","title":"Log number of users","titleAngle":270,"titlePadding":29,"tickSize":{"condition":{"test":"indexof([0,1,10,100,1000],datum.value)>=0","value":6},"value":3},"values":[0,1,2,3,4,5,6,7,8,9,10,20,30,40,50,60,70,80,90,100,200,300,400,500,600,700,800,900,1000,2000,3000,4000,5000,6000],"labelExpr":"datum.value==0?'0':datum.value==1?'10⁰':datum.value==10?'10¹':datum.value==100?'10²':datum.value==1000?'10³':''"}},"y2":{"field":"hi"}}}
]}]},
{"title":{"text":"(b)  Factual Exposure vs Individual Factual Scores","orient":"bottom","offset":20},"spacing":9,"hconcat":[
{"width":389,"height":398,"encoding":{"color":{"field":"v","type":"quantitative","legend":null,"scale":{"type":"symlog","constant":0.235,"domain":[0,3000],"scheme":"viridis"}},"stroke":{"field":"v","type":"quantitative","legend":null,"scale":{"type":"symlog","constant":0.235,"domain":[0,3000],"scheme":"viridis"}}},"layer":[
{"data":{"values":[
{"x":0.4201,"y":0.96,"v":6},{"x":0.4588,"y":0.96,"v":9},{"x":0.4974,"y":0.96,"v":11},{"x":0.5361,"y":0.96,"v":16},{"x":0.5747,"y":0.96,"v":20},{"x":0.6134,"y":0.96,"v":22},{"x":0.6521,"y":0.96,"v":30},{"x":0.6907,"y":0.96,"v":35},{"x":0.7294,"y":0.96,"v":35},{"x":0.768,"y":0.96,"v":35},{"x":0.8067,"y":0.96,"v":5},{"x":0.8454,"y":0.96,"v":6},{"x":0.884,"y":0.96,"v":5},{"x":0.9227,"y":0.96,"v":3},{"x":0.9614,"y":0.96,"v":6},
{"x":0.4201,"y":0.921,"v":4},{"x":0.4588,"y":0.921,"v":8},{"x":0.4974,"y":0.921,"v":8},{"x":0.5361,"y":0.921,"v":12},{"x":0.5747,"y":0.921,"v":14},{"x":0.6134,"y":0.921,"v":16},{"x":0.6521,"y":0.921,"v":26},{"x":0.6907,"y":0.921,"v":30},{"x":0.7294,"y":0.921,"v":32},{"x":0.768,"y":0.921,"v":30},{"x":0.8067,"y":0.921,"v":4},{"x":0.8454,"y":0.921,"v":5},{"x":0.884,"y":0.921,"v":4},{"x":0.9227,"y":0.921,"v":1.5},{"x":0.9614,"y":0.921,"v":2},
{"x":0.4201,"y":0.882,"v":6},{"x":0.4588,"y":0.882,"v":8},{"x":0.4974,"y":0.882,"v":10},{"x":0.5361,"y":0.882,"v":14},{"x":0.5747,"y":0.882,"v":18},{"x":0.6134,"y":0.882,"v":20},{"x":0.6521,"y":0.882,"v":28},{"x":0.6907,"y":0.882,"v":34},{"x":0.7294,"y":0.882,"v":38},{"x":0.768,"y":0.882,"v":34},{"x":0.8067,"y":0.882,"v":4},{"x":0.8454,"y":0.882,"v":5},{"x":0.884,"y":0.882,"v":4},{"x":0.9227,"y":0.882,"v":2},{"x":0.9614,"y":0.882,"v":2},
{"x":0.4201,"y":0.842,"v":6},{"x":0.4588,"y":0.842,"v":10},{"x":0.4974,"y":0.842,"v":14},{"x":0.5361,"y":0.842,"v":18},{"x":0.5747,"y":0.842,"v":20},{"x":0.6134,"y":0.842,"v":28},{"x":0.6521,"y":0.842,"v":32},{"x":0.6907,"y":0.842,"v":40},{"x":0.7294,"y":0.842,"v":42},{"x":0.768,"y":0.842,"v":40},{"x":0.8067,"y":0.842,"v":5},{"x":0.8454,"y":0.842,"v":6},{"x":0.884,"y":0.842,"v":6},{"x":0.9227,"y":0.842,"v":2.5},{"x":0.9614,"y":0.842,"v":2.5},
{"x":0.4201,"y":0.803,"v":8},{"x":0.4588,"y":0.803,"v":14},{"x":0.4974,"y":0.803,"v":18},{"x":0.5361,"y":0.803,"v":24},{"x":0.5747,"y":0.803,"v":28},{"x":0.6134,"y":0.803,"v":36},{"x":0.6521,"y":0.803,"v":42},{"x":0.6907,"y":0.803,"v":50},{"x":0.7294,"y":0.803,"v":55},{"x":0.768,"y":0.803,"v":50},{"x":0.8067,"y":0.803,"v":6},{"x":0.8454,"y":0.803,"v":8},{"x":0.884,"y":0.803,"v":8},{"x":0.9227,"y":0.803,"v":4},{"x":0.9614,"y":0.803,"v":3},
{"x":0.3041,"y":0.763,"v":0.6},{"x":0.3428,"y":0.763,"v":1.5},{"x":0.3814,"y":0.763,"v":3},{"x":0.4201,"y":0.763,"v":110},{"x":0.4588,"y":0.763,"v":130},{"x":0.4974,"y":0.763,"v":140},{"x":0.5361,"y":0.763,"v":170},{"x":0.5747,"y":0.763,"v":180},{"x":0.6134,"y":0.763,"v":190},{"x":0.6521,"y":0.763,"v":330},{"x":0.6907,"y":0.763,"v":400},{"x":0.7294,"y":0.763,"v":430},{"x":0.768,"y":0.763,"v":400},{"x":0.8067,"y":0.763,"v":20},{"x":0.8454,"y":0.763,"v":22},{"x":0.884,"y":0.763,"v":12},{"x":0.9227,"y":0.763,"v":6},{"x":0.9614,"y":0.763,"v":3},
{"x":0.3041,"y":0.724,"v":0.6},{"x":0.3428,"y":0.724,"v":1.5},{"x":0.3814,"y":0.724,"v":3},{"x":0.4201,"y":0.724,"v":110},{"x":0.4588,"y":0.724,"v":130},{"x":0.4974,"y":0.724,"v":150},{"x":0.5361,"y":0.724,"v":190},{"x":0.5747,"y":0.724,"v":190},{"x":0.6134,"y":0.724,"v":200},{"x":0.6521,"y":0.724,"v":340},{"x":0.6907,"y":0.724,"v":420},{"x":0.7294,"y":0.724,"v":470},{"x":0.768,"y":0.724,"v":420},{"x":0.8067,"y":0.724,"v":18},{"x":0.8454,"y":0.724,"v":22},{"x":0.884,"y":0.724,"v":14},{"x":0.9227,"y":0.724,"v":5},{"x":0.9614,"y":0.724,"v":3},
{"x":0.3041,"y":0.684,"v":0.6},{"x":0.3428,"y":0.684,"v":1},{"x":0.3814,"y":0.684,"v":5},{"x":0.4201,"y":0.684,"v":110},{"x":0.4588,"y":0.684,"v":130},{"x":0.4974,"y":0.684,"v":160},{"x":0.5361,"y":0.684,"v":210},{"x":0.5747,"y":0.684,"v":210},{"x":0.6134,"y":0.684,"v":210},{"x":0.6521,"y":0.684,"v":380},{"x":0.6907,"y":0.684,"v":470},{"x":0.7294,"y":0.684,"v":520},{"x":0.768,"y":0.684,"v":440},{"x":0.8067,"y":0.684,"v":18},{"x":0.8454,"y":0.684,"v":25},{"x":0.884,"y":0.684,"v":16},{"x":0.9227,"y":0.684,"v":5},{"x":0.9614,"y":0.684,"v":2},
{"x":0.3041,"y":0.645,"v":1},{"x":0.3428,"y":0.645,"v":3},{"x":0.3814,"y":0.645,"v":6},{"x":0.4201,"y":0.645,"v":120},{"x":0.4588,"y":0.645,"v":150},{"x":0.4974,"y":0.645,"v":170},{"x":0.5361,"y":0.645,"v":230},{"x":0.5747,"y":0.645,"v":240},{"x":0.6134,"y":0.645,"v":220},{"x":0.6521,"y":0.645,"v":420},{"x":0.6907,"y":0.645,"v":500},{"x":0.7294,"y":0.645,"v":520},{"x":0.768,"y":0.645,"v":440},{"x":0.8067,"y":0.645,"v":18},{"x":0.8454,"y":0.645,"v":26},{"x":0.884,"y":0.645,"v":16},{"x":0.9227,"y":0.645,"v":5},{"x":0.9614,"y":0.645,"v":2},
{"x":0.2268,"y":0.605,"v":0.4},{"x":0.2655,"y":0.605,"v":1.5},{"x":0.3041,"y":0.605,"v":3},{"x":0.3428,"y":0.605,"v":6},{"x":0.3814,"y":0.605,"v":9},{"x":0.4201,"y":0.605,"v":130},{"x":0.4588,"y":0.605,"v":180},{"x":0.4974,"y":0.605,"v":200},{"x":0.5361,"y":0.605,"v":280},{"x":0.5747,"y":0.605,"v":300},{"x":0.6134,"y":0.605,"v":250},{"x":0.6521,"y":0.605,"v":450},{"x":0.6907,"y":0.605,"v":520},{"x":0.7294,"y":0.605,"v":500},{"x":0.768,"y":0.605,"v":420},{"x":0.8067,"y":0.605,"v":22},{"x":0.8454,"y":0.605,"v":24},{"x":0.884,"y":0.605,"v":18},{"x":0.9227,"y":0.605,"v":6},{"x":0.9614,"y":0.605,"v":2},
{"x":0.1881,"y":0.566,"v":0.6},{"x":0.2268,"y":0.566,"v":1.5},{"x":0.2655,"y":0.566,"v":2.5},{"x":0.3041,"y":0.566,"v":4},{"x":0.3428,"y":0.566,"v":8},{"x":0.3814,"y":0.566,"v":10},{"x":0.4201,"y":0.566,"v":130},{"x":0.4588,"y":0.566,"v":190},{"x":0.4974,"y":0.566,"v":200},{"x":0.5361,"y":0.566,"v":300},{"x":0.5747,"y":0.566,"v":320},{"x":0.6134,"y":0.566,"v":230},{"x":0.6521,"y":0.566,"v":450},{"x":0.6907,"y":0.566,"v":520},{"x":0.7294,"y":0.566,"v":500},{"x":0.768,"y":0.566,"v":400},{"x":0.8067,"y":0.566,"v":20},{"x":0.8454,"y":0.566,"v":22},{"x":0.884,"y":0.566,"v":14},{"x":0.9227,"y":0.566,"v":4},{"x":0.9614,"y":0.566,"v":1},
{"x":0.1108,"y":0.526,"v":0.4},{"x":0.1495,"y":0.526,"v":0.8},{"x":0.1881,"y":0.526,"v":2},{"x":0.2268,"y":0.526,"v":4},{"x":0.2655,"y":0.526,"v":5},{"x":0.3041,"y":0.526,"v":7},{"x":0.3428,"y":0.526,"v":10},{"x":0.3814,"y":0.526,"v":14},{"x":0.4201,"y":0.526,"v":110},{"x":0.4588,"y":0.526,"v":160},{"x":0.4974,"y":0.526,"v":170},{"x":0.5361,"y":0.526,"v":250},{"x":0.5747,"y":0.526,"v":250},{"x":0.6134,"y":0.526,"v":190},{"x":0.6521,"y":0.526,"v":340},{"x":0.6907,"y":0.526,"v":400},{"x":0.7294,"y":0.526,"v":340},{"x":0.768,"y":0.526,"v":270},{"x":0.8067,"y":0.526,"v":15},{"x":0.8454,"y":0.526,"v":16},{"x":0.884,"y":0.526,"v":10},{"x":0.9227,"y":0.526,"v":3.5},{"x":0.9614,"y":0.526,"v":1.5},
{"x":0.0722,"y":0.487,"v":0.4},{"x":0.1108,"y":0.487,"v":1.2},{"x":0.1495,"y":0.487,"v":2},{"x":0.1881,"y":0.487,"v":4},{"x":0.2268,"y":0.487,"v":6},{"x":0.2655,"y":0.487,"v":7},{"x":0.3041,"y":0.487,"v":9},{"x":0.3428,"y":0.487,"v":12},{"x":0.3814,"y":0.487,"v":18},{"x":0.4201,"y":0.487,"v":90},{"x":0.4588,"y":0.487,"v":130},{"x":0.4974,"y":0.487,"v":150},{"x":0.5361,"y":0.487,"v":190},{"x":0.5747,"y":0.487,"v":190},{"x":0.6134,"y":0.487,"v":150},{"x":0.6521,"y":0.487,"v":250},{"x":0.6907,"y":0.487,"v":290},{"x":0.7294,"y":0.487,"v":250},{"x":0.768,"y":0.487,"v":190},{"x":0.8067,"y":0.487,"v":12},{"x":0.8454,"y":0.487,"v":14},{"x":0.884,"y":0.487,"v":8},{"x":0.9227,"y":0.487,"v":2},{"x":0.9614,"y":0.487,"v":1},
{"x":0.0335,"y":0.4475,"v":0.4},{"x":0.0722,"y":0.4475,"v":1},{"x":0.1108,"y":0.4475,"v":2.5},{"x":0.1495,"y":0.4475,"v":4},{"x":0.1881,"y":0.4475,"v":6},{"x":0.2268,"y":0.4475,"v":7},{"x":0.2655,"y":0.4475,"v":8},{"x":0.3041,"y":0.4475,"v":10},{"x":0.3428,"y":0.4475,"v":15},{"x":0.3814,"y":0.4475,"v":20},{"x":0.4201,"y":0.4475,"v":85},{"x":0.4588,"y":0.4475,"v":110},{"x":0.4974,"y":0.4475,"v":120},{"x":0.5361,"y":0.4475,"v":150},{"x":0.5747,"y":0.4475,"v":150},{"x":0.6134,"y":0.4475,"v":115},{"x":0.6521,"y":0.4475,"v":190},{"x":0.6907,"y":0.4475,"v":210},{"x":0.7294,"y":0.4475,"v":170},{"x":0.768,"y":0.4475,"v":140},{"x":0.8067,"y":0.4475,"v":8},{"x":0.8454,"y":0.4475,"v":10},{"x":0.884,"y":0.4475,"v":8},{"x":0.9227,"y":0.4475,"v":1},{"x":0.9614,"y":0.4475,"v":1},
{"x":0.0335,"y":0.408,"v":0.4},{"x":0.0722,"y":0.408,"v":1.2},{"x":0.1108,"y":0.408,"v":3},{"x":0.1495,"y":0.408,"v":5},{"x":0.1881,"y":0.408,"v":7},{"x":0.2268,"y":0.408,"v":8},{"x":0.2655,"y":0.408,"v":9},{"x":0.3041,"y":0.408,"v":13},{"x":0.3428,"y":0.408,"v":17},{"x":0.3814,"y":0.408,"v":25},{"x":0.4201,"y":0.408,"v":80},{"x":0.4588,"y":0.408,"v":100},{"x":0.4974,"y":0.408,"v":115},{"x":0.5361,"y":0.408,"v":135},{"x":0.5747,"y":0.408,"v":130},{"x":0.6134,"y":0.408,"v":95},{"x":0.6521,"y":0.408,"v":170},{"x":0.6907,"y":0.408,"v":160},{"x":0.7294,"y":0.408,"v":135},{"x":0.768,"y":0.408,"v":110},{"x":0.8067,"y":0.408,"v":8},{"x":0.8454,"y":0.408,"v":8},{"x":0.884,"y":0.408,"v":5},{"x":0.9227,"y":0.408,"v":1},{"x":0.9614,"y":0.408,"v":0.8},
{"x":0.0335,"y":0.3685,"v":0.4},{"x":0.0722,"y":0.3685,"v":1},{"x":0.1108,"y":0.3685,"v":3},{"x":0.1495,"y":0.3685,"v":4},{"x":0.1881,"y":0.3685,"v":6},{"x":0.2268,"y":0.3685,"v":8},{"x":0.2655,"y":0.3685,"v":9},{"x":0.3041,"y":0.3685,"v":11},{"x":0.3428,"y":0.3685,"v":14},{"x":0.3814,"y":0.3685,"v":22},{"x":0.4201,"y":0.3685,"v":60},{"x":0.4588,"y":0.3685,"v":80},{"x":0.4974,"y":0.3685,"v":90},{"x":0.5361,"y":0.3685,"v":105},{"x":0.5747,"y":0.3685,"v":100},{"x":0.6134,"y":0.3685,"v":80},{"x":0.6521,"y":0.3685,"v":130},{"x":0.6907,"y":0.3685,"v":130},{"x":0.7294,"y":0.3685,"v":110},{"x":0.768,"y":0.3685,"v":90},{"x":0.8067,"y":0.3685,"v":8},{"x":0.8454,"y":0.3685,"v":6},{"x":0.884,"y":0.3685,"v":4},{"x":0.9227,"y":0.3685,"v":0.8},{"x":0.9614,"y":0.3685,"v":0.8},
{"x":0.0722,"y":0.329,"v":0.4},{"x":0.1108,"y":0.329,"v":1.2},{"x":0.1495,"y":0.329,"v":2},{"x":0.1881,"y":0.329,"v":5},{"x":0.2268,"y":0.329,"v":5},{"x":0.2655,"y":0.329,"v":6},{"x":0.3041,"y":0.329,"v":8},{"x":0.3428,"y":0.329,"v":12},{"x":0.3814,"y":0.329,"v":14},{"x":0.4201,"y":0.329,"v":20},{"x":0.4588,"y":0.329,"v":20},{"x":0.4974,"y":0.329,"v":20},{"x":0.5361,"y":0.329,"v":18},{"x":0.5747,"y":0.329,"v":18},{"x":0.6134,"y":0.329,"v":16},{"x":0.6521,"y":0.329,"v":18},{"x":0.6907,"y":0.329,"v":14},{"x":0.7294,"y":0.329,"v":12},{"x":0.768,"y":0.329,"v":10},{"x":0.8067,"y":0.329,"v":1.5},{"x":0.8454,"y":0.329,"v":1},{"x":0.884,"y":0.329,"v":0.5},{"x":0.9227,"y":0.329,"v":0.2},
{"x":0.0722,"y":0.29,"v":0.5},{"x":0.1108,"y":0.29,"v":1},{"x":0.1495,"y":0.29,"v":2},{"x":0.1881,"y":0.29,"v":3},{"x":0.2268,"y":0.29,"v":4},{"x":0.2655,"y":0.29,"v":5},{"x":0.3041,"y":0.29,"v":5},{"x":0.3428,"y":0.29,"v":7},{"x":0.3814,"y":0.29,"v":8},{"x":0.4201,"y":0.29,"v":12},{"x":0.4588,"y":0.29,"v":12},{"x":0.4974,"y":0.29,"v":10},{"x":0.5361,"y":0.29,"v":10},{"x":0.5747,"y":0.29,"v":14},{"x":0.6134,"y":0.29,"v":10},{"x":0.6521,"y":0.29,"v":6},{"x":0.6907,"y":0.29,"v":8},{"x":0.7294,"y":0.29,"v":6},{"x":0.768,"y":0.29,"v":7},{"x":0.8454,"y":0.29,"v":0.8},{"x":0.884,"y":0.29,"v":0.5},{"x":0.9227,"y":0.29,"v":0.5},
{"x":0.0722,"y":0.25,"v":0.3},{"x":0.1108,"y":0.25,"v":0.6},{"x":0.1495,"y":0.25,"v":1.5},{"x":0.1881,"y":0.25,"v":2},{"x":0.2268,"y":0.25,"v":2.5},{"x":0.2655,"y":0.25,"v":2},{"x":0.3041,"y":0.25,"v":2.5},{"x":0.3428,"y":0.25,"v":3},{"x":0.3814,"y":0.25,"v":5},{"x":0.4201,"y":0.25,"v":9},{"x":0.4588,"y":0.25,"v":9},{"x":0.4974,"y":0.25,"v":7},{"x":0.5361,"y":0.25,"v":8},{"x":0.5747,"y":0.25,"v":7},{"x":0.6134,"y":0.25,"v":6},{"x":0.6521,"y":0.25,"v":5},{"x":0.6907,"y":0.25,"v":3},{"x":0.7294,"y":0.25,"v":3},{"x":0.768,"y":0.25,"v":3},{"x":0.8454,"y":0.25,"v":0.5},{"x":0.884,"y":0.25,"v":0.2},
{"x":0.1495,"y":0.2105,"v":0.6},{"x":0.1881,"y":0.2105,"v":1.2},{"x":0.2268,"y":0.2105,"v":1},{"x":0.2655,"y":0.2105,"v":1.2},{"x":0.3041,"y":0.2105,"v":1.5},{"x":0.3428,"y":0.2105,"v":1.5},{"x":0.3814,"y":0.2105,"v":2},{"x":0.4201,"y":0.2105,"v":2.5},{"x":0.4588,"y":0.2105,"v":3},{"x":0.4974,"y":0.2105,"v":2},{"x":0.5361,"y":0.2105,"v":2},{"x":0.5747,"y":0.2105,"v":2.5},{"x":0.6134,"y":0.2105,"v":2},{"x":0.6521,"y":0.2105,"v":1.5},{"x":0.6907,"y":0.2105,"v":1},{"x":0.7294,"y":0.2105,"v":0.7},{"x":0.768,"y":0.2105,"v":1},
{"x":0.1495,"y":0.1711,"v":0.4},{"x":0.2655,"y":0.1711,"v":0.5},{"x":0.3041,"y":0.1711,"v":0.5},{"x":0.3428,"y":0.1711,"v":0.5},{"x":0.3814,"y":0.1711,"v":0.8},{"x":0.4201,"y":0.1711,"v":0.8},{"x":0.4588,"y":0.1711,"v":0.4},{"x":0.4974,"y":0.1711,"v":0.8},{"x":0.5361,"y":0.1711,"v":0.8},{"x":0.5747,"y":0.1711,"v":0.4},{"x":0.6134,"y":0.1711,"v":0.4},{"x":0.6521,"y":0.1711,"v":0.5},{"x":0.6907,"y":0.1711,"v":0.4},{"x":0.7294,"y":0.1711,"v":0.3},{"x":0.768,"y":0.1711,"v":0.5},
{"x":0.4201,"y":0.1316,"v":0.6},{"x":0.4588,"y":0.1316,"v":0.5},{"x":0.4974,"y":0.1316,"v":0.5},{"x":0.5361,"y":0.1316,"v":0.2},{"x":0.5747,"y":0.1316,"v":0.3},{"x":0.6134,"y":0.1316,"v":0.2},{"x":0.768,"y":0.1316,"v":0.3}
]},"mark":"rect","encoding":{"x":{"field":"x","type":"quantitative","bin":{"binned":true,"step":0.03866},"scale":{"domain":[0.0335,1],"nice":false},"axis":{"title":"Fact <-> Misinformation (Sharing)","values":[0.2,0.4,0.6,0.8,1],"format":".1f","titlePadding":2}},"y":{"field":"y","type":"quantitative","bin":{"binned":true,"step":0.03946},"scale":{"domain":[0.0134,1],"nice":false},"axis":{"title":"Fact <-> Misinformation (Exposure)","values":[0.2,0.4,0.6,0.8,1],"format":".1f","titlePadding":6}}}},
{"data":{"values":[
{"x":0.4008,"y":0.1711,"v":1.5},{"x":0.4008,"y":0.2105,"v":3},{"x":0.4008,"y":0.25,"v":9},{"x":0.4008,"y":0.29,"v":12},{"x":0.4008,"y":0.329,"v":22},{"x":0.4008,"y":0.3685,"v":1100},{"x":0.4008,"y":0.408,"v":1100},{"x":0.4008,"y":0.4475,"v":1000},{"x":0.4008,"y":0.487,"v":900},{"x":0.4008,"y":0.526,"v":800},{"x":0.4008,"y":0.566,"v":700},{"x":0.4008,"y":0.605,"v":500},{"x":0.4008,"y":0.645,"v":430},{"x":0.4008,"y":0.684,"v":380},{"x":0.4008,"y":0.724,"v":350},{"x":0.4008,"y":0.763,"v":320},{"x":0.4008,"y":0.803,"v":45},{"x":0.4008,"y":0.842,"v":35},{"x":0.4008,"y":0.882,"v":30},{"x":0.4008,"y":0.921,"v":30},{"x":0.4008,"y":0.96,"v":40},
{"x":0.594,"y":0.1316,"v":0.3},{"x":0.594,"y":0.1711,"v":0.7},{"x":0.594,"y":0.2105,"v":2},{"x":0.594,"y":0.25,"v":8},{"x":0.594,"y":0.29,"v":10},{"x":0.594,"y":0.329,"v":18},{"x":0.594,"y":0.3685,"v":70},{"x":0.594,"y":0.408,"v":180},{"x":0.594,"y":0.4475,"v":220},{"x":0.594,"y":0.487,"v":280},{"x":0.594,"y":0.526,"v":400},{"x":0.594,"y":0.566,"v":550},{"x":0.594,"y":0.605,"v":620},{"x":0.594,"y":0.645,"v":450},{"x":0.594,"y":0.684,"v":380},{"x":0.594,"y":0.724,"v":340},{"x":0.594,"y":0.763,"v":320},{"x":0.594,"y":0.803,"v":45},{"x":0.594,"y":0.842,"v":30},{"x":0.594,"y":0.882,"v":26},{"x":0.594,"y":0.921,"v":28},{"x":0.594,"y":0.96,"v":40},
{"x":0.7874,"y":0.1316,"v":0.3},{"x":0.7874,"y":0.1711,"v":0.7},{"x":0.7874,"y":0.2105,"v":1},{"x":0.7874,"y":0.25,"v":5},{"x":0.7874,"y":0.29,"v":8},{"x":0.7874,"y":0.329,"v":14},{"x":0.7874,"y":0.3685,"v":60},{"x":0.7874,"y":0.408,"v":140},{"x":0.7874,"y":0.4475,"v":170},{"x":0.7874,"y":0.487,"v":200},{"x":0.7874,"y":0.526,"v":260},{"x":0.7874,"y":0.566,"v":320},{"x":0.7874,"y":0.605,"v":400},{"x":0.7874,"y":0.645,"v":450},{"x":0.7874,"y":0.684,"v":500},{"x":0.7874,"y":0.724,"v":550},{"x":0.7874,"y":0.763,"v":650},{"x":0.7874,"y":0.803,"v":45},{"x":0.7874,"y":0.842,"v":40},{"x":0.7874,"y":0.882,"v":40},{"x":0.7874,"y":0.921,"v":35},{"x":0.7874,"y":0.96,"v":60}
]},"mark":"rect","encoding":{"x":{"field":"x","type":"quantitative","bin":{"binned":true,"step":0.01933},"scale":{"domain":[0.0335,1],"nice":false}},"y":{"field":"y","type":"quantitative","bin":{"binned":true,"step":0.03946},"scale":{"domain":[0.0134,1],"nice":false}}}},
{"data":{"values":[
{"x":0.4201,"y":0.783,"v":220},{"x":0.4588,"y":0.783,"v":300},{"x":0.4974,"y":0.783,"v":320},{"x":0.5361,"y":0.783,"v":360},{"x":0.5747,"y":0.783,"v":220},{"x":0.6134,"y":0.783,"v":380},{"x":0.6521,"y":0.783,"v":500},{"x":0.6907,"y":0.783,"v":580},{"x":0.7294,"y":0.783,"v":580},{"x":0.768,"y":0.783,"v":650},{"x":0.8067,"y":0.783,"v":65},{"x":0.8454,"y":0.783,"v":100},{"x":0.884,"y":0.783,"v":100},{"x":0.9227,"y":0.783,"v":30},{"x":0.9614,"y":0.783,"v":15},
{"x":0.4201,"y":0.586,"v":180},{"x":0.4588,"y":0.586,"v":300},{"x":0.4974,"y":0.586,"v":330},{"x":0.5361,"y":0.586,"v":380},{"x":0.5747,"y":0.586,"v":420},{"x":0.6134,"y":0.586,"v":320},{"x":0.6521,"y":0.586,"v":520},{"x":0.6907,"y":0.586,"v":620},{"x":0.7294,"y":0.586,"v":560},{"x":0.768,"y":0.586,"v":450},{"x":0.8067,"y":0.586,"v":35},{"x":0.8454,"y":0.586,"v":35},{"x":0.884,"y":0.586,"v":25},{"x":0.9227,"y":0.586,"v":8},{"x":0.9614,"y":0.586,"v":3},
{"x":0.4201,"y":0.3685,"v":170},{"x":0.4588,"y":0.3685,"v":230},{"x":0.4974,"y":0.3685,"v":230},{"x":0.5361,"y":0.3685,"v":270},{"x":0.5747,"y":0.3685,"v":240},{"x":0.6134,"y":0.3685,"v":260},{"x":0.6521,"y":0.3685,"v":280},{"x":0.6907,"y":0.3685,"v":320},{"x":0.7294,"y":0.3685,"v":300},{"x":0.768,"y":0.3685,"v":240},{"x":0.8067,"y":0.3685,"v":12},{"x":0.8454,"y":0.3685,"v":15},{"x":0.884,"y":0.3685,"v":10},{"x":0.9227,"y":0.3685,"v":4},{"x":0.9614,"y":0.3685,"v":3}
]},"mark":"rect","encoding":{"x":{"field":"x","type":"quantitative","bin":{"binned":true,"step":0.03866},"scale":{"domain":[0.0335,1],"nice":false}},"y":{"field":"y","type":"quantitative","bin":{"binned":true,"step":0.01973},"scale":{"domain":[0.0134,1],"nice":false}}}},
{"data":{"values":[
{"x":0.4008,"y":0.783,"v":500},{"x":0.594,"y":0.783,"v":650},{"x":0.7874,"y":0.783,"v":2800},{"x":0.4008,"y":0.586,"v":1100},{"x":0.594,"y":0.586,"v":1300},{"x":0.7874,"y":0.586,"v":700},{"x":0.4008,"y":0.3685,"v":1400},{"x":0.594,"y":0.3685,"v":550},{"x":0.7874,"y":0.3685,"v":550},{"x":0.9807,"y":0.98,"v":60},
{"x":0.2848,"y":0.98,"v":1},{"x":0.3042,"y":0.941,"v":1},{"x":0.362,"y":0.941,"v":1},{"x":0.3235,"y":0.921,"v":1},{"x":0.3235,"y":0.901,"v":1},{"x":0.3235,"y":0.882,"v":1},{"x":0.3428,"y":0.882,"v":1},{"x":0.362,"y":0.842,"v":1},{"x":0.2075,"y":0.822,"v":1},{"x":0.2655,"y":0.822,"v":1},{"x":0.1688,"y":0.803,"v":1},{"x":0.3042,"y":0.803,"v":1},{"x":0.362,"y":0.803,"v":1},{"x":0.1882,"y":0.783,"v":1},{"x":0.072,"y":0.724,"v":1},{"x":0.1688,"y":0.724,"v":1},{"x":0.1882,"y":0.684,"v":1},{"x":0.2461,"y":0.763,"v":1},{"x":0.2655,"y":0.724,"v":1},
{"x":0.1495,"y":0.0134,"v":1},{"x":0.0915,"y":0.033,"v":1},{"x":0.2268,"y":0.0726,"v":1},{"x":0.2848,"y":0.0726,"v":1},{"x":0.3815,"y":0.0726,"v":1},{"x":0.0915,"y":0.0923,"v":1},{"x":0.3235,"y":0.0923,"v":1},{"x":0.2075,"y":0.112,"v":1},{"x":0.2461,"y":0.112,"v":1},{"x":0.3042,"y":0.112,"v":1},{"x":0.3428,"y":0.1318,"v":1},{"x":0.072,"y":0.1318,"v":1},{"x":0.0915,"y":0.1318,"v":1},{"x":0.072,"y":0.1515,"v":1},{"x":0.2848,"y":0.1515,"v":1},{"x":0.3815,"y":0.1515,"v":1},{"x":0.4008,"y":0.0134,"v":1},{"x":0.4974,"y":0.0528,"v":1},{"x":0.459,"y":0.0923,"v":1},{"x":0.4974,"y":0.0923,"v":1},{"x":0.5361,"y":0.112,"v":1},{"x":0.5361,"y":0.1318,"v":1},{"x":0.5747,"y":0.0528,"v":1},{"x":0.5941,"y":0.0528,"v":1},{"x":0.6907,"y":0.0528,"v":1},{"x":0.7874,"y":0.0528,"v":1},{"x":0.6714,"y":0.0134,"v":1},{"x":0.6714,"y":0.0726,"v":1},{"x":0.6521,"y":0.0923,"v":1},{"x":0.6521,"y":0.112,"v":1},{"x":0.7487,"y":0.112,"v":1},{"x":0.7874,"y":0.112,"v":1},{"x":0.7874,"y":0.1318,"v":1},{"x":0.9227,"y":0.25,"v":1}
]},"mark":"rect","encoding":{"x":{"field":"x","type":"quantitative","bin":{"binned":true,"step":0.01933},"scale":{"domain":[0.0335,1],"nice":false}},"y":{"field":"y","type":"quantitative","bin":{"binned":true,"step":0.01973},"scale":{"domain":[0.0134,1],"nice":false}}}}
]},
{"width":22,"height":398,"data":{"values":[{"lo":0,"hi":3000}]},"mark":{"type":"rect","color":{"gradient":"linear","x1":0,"x2":0,"y1":1,"y2":0,"stops":[{"offset":0,"color":"#440154"},{"offset":0.1,"color":"#482475"},{"offset":0.2,"color":"#414487"},{"offset":0.3,"color":"#355f8d"},{"offset":0.4,"color":"#2a788e"},{"offset":0.5,"color":"#21918c"},{"offset":0.6,"color":"#22a884"},{"offset":0.7,"color":"#44bf70"},{"offset":0.8,"color":"#7ad151"},{"offset":0.9,"color":"#bddf26"},{"offset":1,"color":"#fde725"}]}},"encoding":{"x":{"value":0},"x2":{"value":22},"y":{"field":"lo","type":"quantitative","scale":{"type":"symlog","constant":0.235,"domain":[0,3000]},"axis":{"orient":"right","title":"Log number of users","titleAngle":270,"titlePadding":26,"tickSize":{"condition":{"test":"indexof([0,1,10,100,1000],datum.value)>=0","value":6},"value":3},"values":[0,1,2,3,4,5,6,7,8,9,10,20,30,40,50,60,70,80,90,100,200,300,400,500,600,700,800,900,1000,2000,3000],"labelExpr":"datum.value==0?'0':datum.value==1?'10⁰':datum.value==10?'10¹':datum.value==100?'10²':datum.value==1000?'10³':''"}},"y2":{"field":"hi"}}}
]}
]}
